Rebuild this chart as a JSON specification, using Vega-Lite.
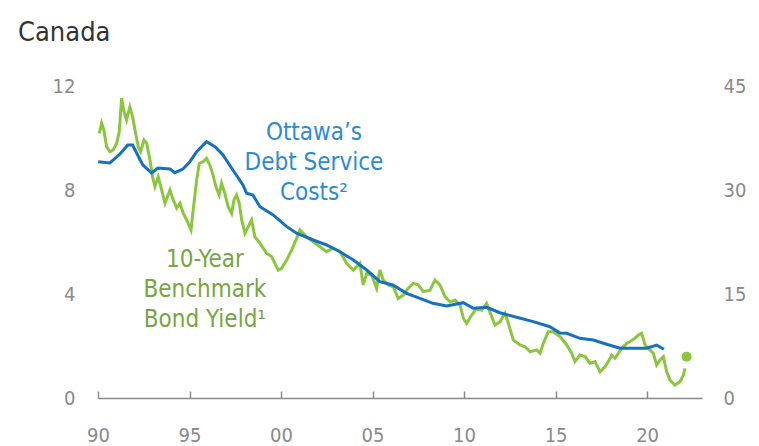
{
  "$schema": "https://vega.github.io/schema/vega-lite/v6.json",
  "width": 604,
  "height": 312,
  "autosize": {"type": "none"},
  "padding": {"left": 98, "top": 86, "right": 57, "bottom": 48},
  "background": "white",
  "config": {"view": {"stroke": null}, "font": "DejaVu Sans Condensed"},
  "title": {"text": "Canada", "anchor": "start", "frame": "group", "dx": -80, "offset": 8, "baseline": "alphabetic", "fontSize": 27, "fontWeight": "normal", "color": "#333333", "font": "DejaVu Sans Condensed"},
  "datasets": {
    "bond": [
      {"t":1990.07,"v":10.18},{"t":1990.20,"v":10.57},{"t":1990.32,"v":10.31},{"t":1990.47,"v":9.67},{"t":1990.65,"v":9.47},{"t":1990.83,"v":9.54},{"t":1991.02,"v":9.80},{"t":1991.16,"v":10.24},{"t":1991.29,"v":11.53},{"t":1991.42,"v":11.01},{"t":1991.56,"v":10.69},{"t":1991.74,"v":11.20},{"t":1991.89,"v":10.82},{"t":1992.02,"v":10.31},{"t":1992.20,"v":9.67},{"t":1992.33,"v":9.47},{"t":1992.51,"v":9.92},{"t":1992.66,"v":9.80},{"t":1992.84,"v":9.15},{"t":1992.98,"v":8.51},{"t":1993.11,"v":8.13},{"t":1993.29,"v":8.51},{"t":1993.48,"v":8.00},{"t":1993.66,"v":7.49},{"t":1993.93,"v":8.00},{"t":1994.11,"v":7.62},{"t":1994.30,"v":7.30},{"t":1994.48,"v":7.49},{"t":1994.66,"v":7.10},{"t":1994.84,"v":6.85},{"t":1995.08,"v":6.46},{"t":1995.20,"v":7.23},{"t":1995.39,"v":8.38},{"t":1995.53,"v":9.03},{"t":1995.75,"v":9.09},{"t":1995.93,"v":9.22},{"t":1996.11,"v":8.96},{"t":1996.26,"v":8.64},{"t":1996.44,"v":8.13},{"t":1996.62,"v":7.81},{"t":1996.75,"v":8.26},{"t":1996.93,"v":7.87},{"t":1997.11,"v":7.36},{"t":1997.30,"v":7.10},{"t":1997.43,"v":7.62},{"t":1997.57,"v":7.81},{"t":1997.72,"v":7.49},{"t":1997.85,"v":6.85},{"t":1998.03,"v":6.33},{"t":1998.21,"v":6.59},{"t":1998.39,"v":6.85},{"t":1998.57,"v":6.20},{"t":1998.85,"v":5.95},{"t":1999.21,"v":5.57},{"t":1999.49,"v":5.43},{"t":1999.85,"v":4.92},{"t":2000.03,"v":4.99},{"t":2000.31,"v":5.31},{"t":2000.58,"v":5.69},{"t":2000.85,"v":6.14},{"t":2001.03,"v":6.46},{"t":2001.40,"v":6.20},{"t":2001.76,"v":6.01},{"t":2002.13,"v":5.82},{"t":2002.49,"v":5.63},{"t":2002.85,"v":5.76},{"t":2003.22,"v":5.63},{"t":2003.58,"v":5.18},{"t":2003.95,"v":4.92},{"t":2004.31,"v":5.18},{"t":2004.49,"v":4.35},{"t":2004.68,"v":4.80},{"t":2004.95,"v":4.73},{"t":2005.22,"v":4.22},{"t":2005.40,"v":4.92},{"t":2005.58,"v":4.54},{"t":2005.86,"v":4.35},{"t":2006.13,"v":4.28},{"t":2006.40,"v":3.83},{"t":2006.68,"v":3.96},{"t":2006.95,"v":4.22},{"t":2007.22,"v":4.41},{"t":2007.50,"v":4.35},{"t":2007.77,"v":4.09},{"t":2008.14,"v":4.15},{"t":2008.41,"v":4.54},{"t":2008.68,"v":4.35},{"t":2008.96,"v":3.90},{"t":2009.23,"v":3.70},{"t":2009.50,"v":3.77},{"t":2009.78,"v":3.58},{"t":2009.96,"v":3.07},{"t":2010.14,"v":2.87},{"t":2010.42,"v":3.19},{"t":2010.69,"v":3.45},{"t":2010.96,"v":3.38},{"t":2011.23,"v":3.64},{"t":2011.51,"v":3.13},{"t":2011.69,"v":2.81},{"t":2011.96,"v":2.93},{"t":2012.24,"v":3.26},{"t":2012.42,"v":2.87},{"t":2012.69,"v":2.23},{"t":2013.06,"v":2.04},{"t":2013.33,"v":1.97},{"t":2013.61,"v":1.78},{"t":2013.97,"v":1.85},{"t":2014.15,"v":1.72},{"t":2014.33,"v":2.10},{"t":2014.60,"v":2.55},{"t":2014.87,"v":2.55},{"t":2015.24,"v":2.36},{"t":2015.61,"v":2.04},{"t":2015.88,"v":1.72},{"t":2016.06,"v":1.40},{"t":2016.33,"v":1.65},{"t":2016.61,"v":1.59},{"t":2016.88,"v":1.33},{"t":2017.15,"v":1.40},{"t":2017.43,"v":1.01},{"t":2017.70,"v":1.20},{"t":2017.88,"v":1.40},{"t":2018.07,"v":1.65},{"t":2018.25,"v":1.53},{"t":2018.43,"v":1.72},{"t":2018.61,"v":1.91},{"t":2018.89,"v":2.10},{"t":2019.07,"v":2.17},{"t":2019.34,"v":2.30},{"t":2019.52,"v":2.42},{"t":2019.70,"v":2.49},{"t":2019.89,"v":2.04},{"t":2020.07,"v":1.91},{"t":2020.34,"v":1.72},{"t":2020.52,"v":1.27},{"t":2020.71,"v":1.46},{"t":2020.89,"v":1.59},{"t":2021.07,"v":1.01},{"t":2021.25,"v":0.69},{"t":2021.52,"v":0.50},{"t":2021.80,"v":0.63},{"t":2021.98,"v":0.88},{"t":2022.07,"v":1.14}
    ],
    "latest": [{"t": 2022.16, "v": 1.59}],
    "debt": [
      {"t":1990.01,"v":34.08},{"t":1990.65,"v":33.90},{"t":1991.20,"v":35.19},{"t":1991.63,"v":36.49},{"t":1991.89,"v":36.49},{"t":1992.11,"v":35.34},{"t":1992.45,"v":33.61},{"t":1992.93,"v":32.45},{"t":1993.27,"v":33.17},{"t":1993.93,"v":33.03},{"t":1994.20,"v":32.50},{"t":1994.64,"v":33.03},{"t":1995.02,"v":34.08},{"t":1995.39,"v":35.53},{"t":1995.93,"v":36.97},{"t":1996.39,"v":36.25},{"t":1996.83,"v":35.05},{"t":1997.37,"v":32.89},{"t":1997.92,"v":30.72},{"t":1998.12,"v":29.53},{"t":1998.46,"v":29.28},{"t":1998.85,"v":27.59},{"t":1999.57,"v":26.40},{"t":2000.31,"v":24.71},{"t":2000.85,"v":23.76},{"t":2001.76,"v":22.79},{"t":2002.49,"v":22.07},{"t":2003.22,"v":21.10},{"t":2003.95,"v":19.90},{"t":2004.68,"v":18.46},{"t":2005.40,"v":16.77},{"t":2006.11,"v":16.30},{"t":2006.86,"v":15.10},{"t":2007.59,"v":14.38},{"t":2008.30,"v":13.66},{"t":2009.05,"v":13.27},{"t":2009.96,"v":13.75},{"t":2010.50,"v":12.94},{"t":2011.23,"v":13.08},{"t":2011.96,"v":12.30},{"t":2012.87,"v":11.64},{"t":2013.78,"v":11.01},{"t":2014.69,"v":10.28},{"t":2015.24,"v":9.38},{"t":2015.61,"v":9.33},{"t":2016.33,"v":8.61},{"t":2017.06,"v":8.37},{"t":2017.79,"v":7.75},{"t":2018.52,"v":7.17},{"t":2019.25,"v":7.17},{"t":2019.98,"v":7.17},{"t":2020.52,"v":7.64},{"t":2020.92,"v":7.02}
    ],
    "notes": [
      {"label": "Ottawa’s\nDebt Service\nCosts²", "t": 2001.8, "v": 10.19, "series": "debt"},
      {"label": "10-Year\nBenchmark\nBond Yield¹", "t": 1995.84, "v": 5.31, "series": "bond"}
    ]
  },
  "resolve": {"scale": {"y": "independent"}},
  "layer": [
    {
      "data": {"name": "bond"},
      "mark": {"type": "line", "color": "#8cc63f", "strokeWidth": 3, "interpolate": "linear"},
      "encoding": {
        "x": {"field": "t", "type": "quantitative", "scale": {"domain": [1990, 2023], "nice": false, "zero": false},
          "axis": {"title": null, "values": [1990, 1995, 2000, 2005, 2010, 2015, 2020], "labelExpr": "slice(toString(datum.value), 2)", "grid": false, "labelFlush": false,
            "domainColor": "#8a8a8a", "domainWidth": 1.5, "tickColor": "#8a8a8a", "tickWidth": 1.5, "tickSize": -7, "labelPadding": 34,
            "labelFontSize": 20, "labelColor": "#8a8a8a", "labelFont": "DejaVu Sans Condensed"}},
        "y": {"field": "v", "type": "quantitative", "scale": {"domain": [0, 12], "nice": false},
          "axis": {"title": null, "values": [0, 4, 8, 12], "grid": false, "domain": false, "ticks": false, "labelPadding": 23,
            "labelFontSize": 20, "labelColor": "#8a8a8a", "labelFont": "DejaVu Sans Condensed"}}
      }
    },
    {
      "data": {"name": "latest"},
      "mark": {"type": "point", "filled": true, "color": "#8cc63f", "size": 100, "opacity": 1},
      "encoding": {
        "x": {"field": "t", "type": "quantitative", "scale": {"domain": [1990, 2023], "nice": false, "zero": false}},
        "y": {"field": "v", "type": "quantitative", "scale": {"domain": [0, 12], "nice": false}, "axis": null}
      }
    },
    {
      "data": {"name": "debt"},
      "mark": {"type": "line", "color": "#1672bf", "strokeWidth": 3},
      "encoding": {
        "x": {"field": "t", "type": "quantitative", "scale": {"domain": [1990, 2023], "nice": false, "zero": false}},
        "y": {"field": "v", "type": "quantitative", "scale": {"domain": [0, 45], "nice": false},
          "axis": {"orient": "right", "title": null, "values": [0, 15, 30, 45], "grid": false, "domain": false, "ticks": false, "labelPadding": 21,
            "labelFontSize": 20, "labelColor": "#8a8a8a", "labelFont": "DejaVu Sans Condensed"}}
      }
    },
    {
      "data": {"name": "notes"},
      "mark": {"type": "text", "align": "center", "baseline": "middle", "fontSize": 24, "lineHeight": 30, "lineBreak": "\n", "font": "DejaVu Sans Condensed"},
      "encoding": {
        "x": {"field": "t", "type": "quantitative", "scale": {"domain": [1990, 2023], "nice": false, "zero": false}},
        "y": {"field": "v", "type": "quantitative", "scale": {"domain": [0, 12], "nice": false}, "axis": null},
        "text": {"field": "label"},
        "color": {"field": "series", "type": "nominal", "scale": {"domain": ["debt", "bond"], "range": ["#2d8bd2", "#77a543"]}, "legend": null}
      }
    }
  ]
}
